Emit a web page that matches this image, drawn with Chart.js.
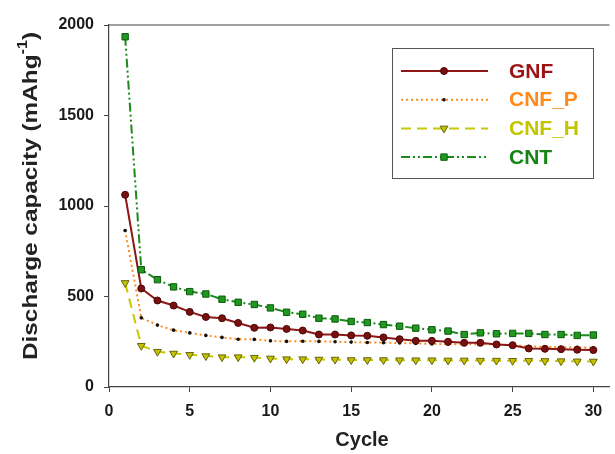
<!DOCTYPE html>
<html>
<head>
<meta charset="utf-8">
<script src="https://cdn.jsdelivr.net/npm/chart.js@4"></script>
<style>
  html, body { margin: 0; padding: 0; background: #fff; }
  #wrap { width: 615px; height: 454px; }
</style>
</head>
<body>
<div id="wrap"><canvas id="capacityChart" width="615" height="454"></canvas></div>
<script>
// datos
const cycles = [1,2,3,4,5,6,7,8,9,10,11,12,13,14,15,16,17,18,19,20,21,22,23,24,25,26,27,28,29,30];
const gnf  = [1062,544,478,450,415,387,380,354,327,329,321,312,290,290,285,283,274,264,255,255,250,244,244,235,231,213,211,209,206,204];
const cnfP = [865,382,342,314,299,285,274,264,263,255,252,253,252,250,248,246,245,243,241,238,236,236,237,235,231,224,222,220,219,217];
const cnfH = [575,228,195,185,178,171,165,165,162,158,154,154,152,152,149,149,149,148,148,148,147,147,146,146,145,145,144,143,142,141];
const cnt  = [1935,648,593,553,527,514,485,468,456,437,413,402,380,376,362,356,345,336,325,316,309,290,299,294,296,296,290,290,285,287];
const seriesNames = ['GNF', 'CNF_P', 'CNF_H', 'CNT'];
const yTicks = [0, 500, 1000, 1500, 2000];
const xTicks = [0, 5, 10, 15, 20, 25, 30];

const FONT = '"Liberation Sans", Arial, sans-serif';
const toXY = vals => vals.map((v, i) => ({ x: cycles[i], y: v }));

// leyenda dibujada a mano (linea + marcador al centro)
const boxLegend = {
    id: 'boxLegend',
    afterDraw(chart) {
        const ctx = chart.ctx;
        const textColors = ['#9a1414', '#ff8a1a', '#c4c400', '#138613'];
        ctx.save();
        ctx.strokeStyle = '#555';
        ctx.lineWidth = 1;
        ctx.strokeRect(392.5, 48.5, 201, 130);
        chart.data.datasets.forEach((ds, i) => {
            const y = 71 + i * 28.7;
            ctx.save();
            ctx.strokeStyle = ds.borderColor;
            ctx.lineWidth = ds.borderWidth;
            ctx.setLineDash(ds.borderDash || []);
            ctx.beginPath();
            ctx.moveTo(401, y);
            ctx.lineTo(488, y);
            ctx.stroke();
            ctx.restore();
            ctx.save();
            ctx.fillStyle = ds.pointBackgroundColor;
            ctx.strokeStyle = ds.pointBorderColor;
            ctx.lineWidth = ds.pointBorderWidth;
            Chart.helpers.drawPoint(ctx, {
                pointStyle: ds.pointStyle,
                radius: ds.pointRadius,
                rotation: ds.pointRotation || 0,
                borderWidth: ds.pointBorderWidth
            }, 444, y);
            ctx.restore();
            ctx.fillStyle = textColors[i];
            ctx.font = 'bold 21px ' + FONT;
            ctx.textBaseline = 'middle';
            ctx.fillText(ds.label, 509, y + 1);
        });
        ctx.restore();
    }
};

// titulos de ejes y borde superior
const axisDecor = {
    id: 'axisDecor',
    afterDraw(chart) {
        const ctx = chart.ctx;
        const a = chart.chartArea;
        ctx.save();
        ctx.strokeStyle = '#444';
        ctx.lineWidth = 1.2;
        ctx.beginPath();
        ctx.moveTo(a.left, a.top);
        ctx.lineTo(a.right, a.top);
        ctx.stroke();

        ctx.fillStyle = '#222';
        ctx.font = 'bold 20px ' + FONT;
        ctx.textAlign = 'center';
        ctx.textBaseline = 'middle';
        ctx.fillText('Cycle', 362, 440);

        // titulo Y con superindice, estirado al largo del original
        ctx.translate(31, 196);
        ctx.rotate(-Math.PI / 2);
        const main = 'Discharge capacity (mAhg';
        const sup = '-1';
        const tail = ')';
        ctx.font = 'bold 21px ' + FONT;
        const wMain = ctx.measureText(main).width;
        const wTail = ctx.measureText(tail).width;
        ctx.font = 'bold 14px ' + FONT;
        const wSup = ctx.measureText(sup).width;
        const total = wMain + wSup + wTail;
        ctx.scale(328 / total, 1);
        let x = -total / 2;
        ctx.textAlign = 'left';
        ctx.font = 'bold 21px ' + FONT;
        ctx.fillText(main, x, 0);
        x += wMain;
        ctx.font = 'bold 14px ' + FONT;
        ctx.fillText(sup, x, -8);
        x += wSup;
        ctx.font = 'bold 21px ' + FONT;
        ctx.fillText(tail, x, 0);
        ctx.restore();
    }
};

const ctx = document.getElementById('capacityChart').getContext('2d');
new Chart(ctx, {
    type: 'line',
    data: {
        datasets: [
            {
                label: seriesNames[0],
                data: toXY(gnf),
                borderColor: '#8e1616',
                borderWidth: 2,
                pointStyle: 'circle',
                pointRadius: 3.5,
                pointBackgroundColor: '#7a0f0f',
                pointBorderColor: '#4a0606',
                pointBorderWidth: 1,
                order: 1
            },
            {
                label: seriesNames[1],
                data: toXY(cnfP),
                borderColor: '#ff8c1a',
                borderWidth: 2,
                borderDash: [2, 3],
                pointStyle: 'circle',
                pointRadius: 1.8,
                pointBackgroundColor: '#111',
                pointBorderColor: '#111',
                pointBorderWidth: 0,
                order: 2
            },
            {
                label: seriesNames[2],
                data: toXY(cnfH),
                borderColor: '#c8c800',
                borderWidth: 2,
                borderDash: [10, 6],
                pointStyle: 'triangle',
                pointRotation: 180,
                pointRadius: 4.5,
                pointBackgroundColor: '#c2c200',
                pointBorderColor: '#66660a',
                pointBorderWidth: 1,
                order: 3
            },
            {
                label: seriesNames[3],
                data: toXY(cnt),
                borderColor: '#1a8a1a',
                borderWidth: 2,
                borderDash: [9, 3, 2, 3, 2, 3],
                pointStyle: 'rect',
                pointRadius: 4.5,
                pointBackgroundColor: '#1f991f',
                pointBorderColor: '#0b5a0b',
                pointBorderWidth: 1,
                order: 0
            }
        ]
    },
    options: {
        responsive: false,
        animation: false,
        layout: { padding: { top: 25, left: 0, right: 0, bottom: 0 } },
        plugins: {
            legend: { display: false },
            tooltip: { enabled: false }
        },
        elements: { line: { tension: 0 } },
        scales: {
            x: {
                type: 'linear',
                min: 0,
                max: 31,
                afterBuildTicks: scale => { scale.ticks = xTicks.map(v => ({ value: v })); },
                afterFit: scale => { scale.height = 67; },
                border: { color: '#444', width: 1.2 },
                grid: { drawOnChartArea: false, tickLength: 5, color: '#444' },
                ticks: {
                    color: '#1a1a1a',
                    padding: 10,
                    maxRotation: 0,
                    callback: v => String(v),
                    font: { family: FONT, size: 16, weight: 'bold' }
                }
            },
            y: {
                min: 0,
                max: 2000,
                afterBuildTicks: scale => { scale.ticks = yTicks.map(v => ({ value: v })); },
                afterFit: scale => { scale.width = 109; },
                border: { color: '#444', width: 1.2 },
                grid: { drawOnChartArea: false, tickLength: 5, color: '#444' },
                ticks: {
                    color: '#1a1a1a',
                    padding: 10,
                    callback: v => String(v),
                    font: { family: FONT, size: 16, weight: 'bold' }
                }
            }
        }
    },
    plugins: [boxLegend, axisDecor]
});
</script>
</body>
</html>
